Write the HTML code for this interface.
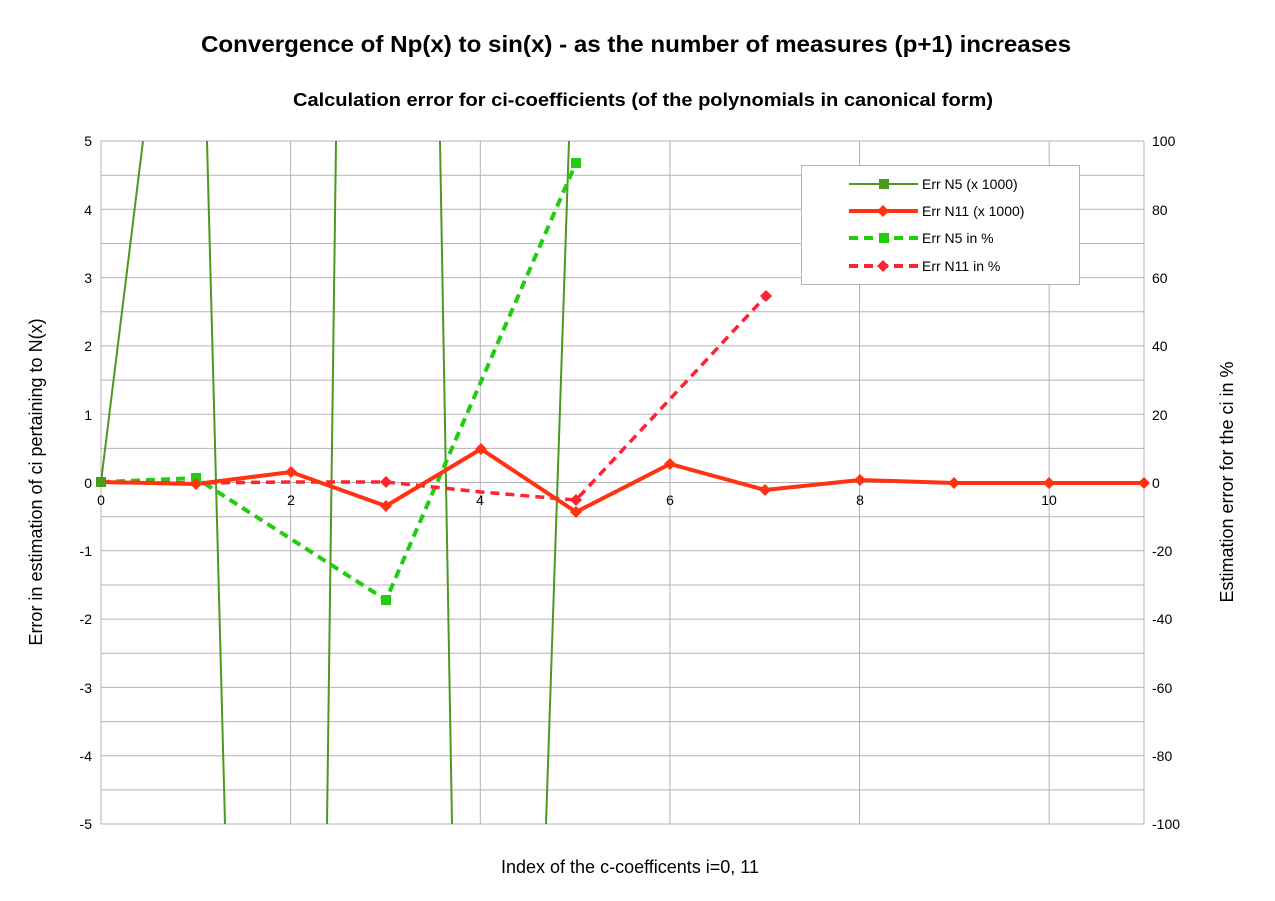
<!DOCTYPE html>
<html><head><meta charset="utf-8"><style>
html,body{margin:0;background:#fff;overflow:hidden;width:1275px;height:901px;}
svg{display:block;}
svg text{font-family:"Liberation Sans",sans-serif;}
</style></head><body>
<svg width="1275" height="901" xmlns="http://www.w3.org/2000/svg">
<rect width="1275" height="901" fill="#fff"/>
<text x="636" y="52" text-anchor="middle" font-size="23.5" font-weight="bold" textLength="870" lengthAdjust="spacingAndGlyphs">Convergence of Np(x) to sin(x) - as the number of measures (p+1) increases</text>
<text x="643" y="106" text-anchor="middle" font-size="18" font-weight="bold" textLength="700" lengthAdjust="spacingAndGlyphs">Calculation error for ci-coefficients (of the polynomials in canonical form)</text>
<defs><clipPath id="c"><rect x="101" y="141" width="1043" height="683"/></clipPath></defs>
<g stroke="#b3b3b3" stroke-width="1">
<line x1="101" y1="141" x2="1144" y2="141"/><line x1="101" y1="175.2" x2="1144" y2="175.2"/><line x1="101" y1="209.3" x2="1144" y2="209.3"/><line x1="101" y1="243.5" x2="1144" y2="243.5"/><line x1="101" y1="277.6" x2="1144" y2="277.6"/><line x1="101" y1="311.8" x2="1144" y2="311.8"/><line x1="101" y1="345.9" x2="1144" y2="345.9"/><line x1="101" y1="380.1" x2="1144" y2="380.1"/><line x1="101" y1="414.2" x2="1144" y2="414.2"/><line x1="101" y1="448.4" x2="1144" y2="448.4"/><line x1="101" y1="482.5" x2="1144" y2="482.5"/><line x1="101" y1="516.7" x2="1144" y2="516.7"/><line x1="101" y1="550.8" x2="1144" y2="550.8"/><line x1="101" y1="585" x2="1144" y2="585"/><line x1="101" y1="619.1" x2="1144" y2="619.1"/><line x1="101" y1="653.3" x2="1144" y2="653.3"/><line x1="101" y1="687.4" x2="1144" y2="687.4"/><line x1="101" y1="721.6" x2="1144" y2="721.6"/><line x1="101" y1="755.7" x2="1144" y2="755.7"/><line x1="101" y1="789.9" x2="1144" y2="789.9"/><line x1="101" y1="824" x2="1144" y2="824"/>
<line x1="101" y1="141" x2="101" y2="824"/><line x1="290.6" y1="141" x2="290.6" y2="824"/><line x1="480.3" y1="141" x2="480.3" y2="824"/><line x1="669.9" y1="141" x2="669.9" y2="824"/><line x1="859.5" y1="141" x2="859.5" y2="824"/><line x1="1049.2" y1="141" x2="1049.2" y2="824"/><line x1="1144" y1="141" x2="1144" y2="824"/>
</g>
<g font-size="14" text-anchor="end">
<text x="92" y="146">5</text><text x="92" y="215">4</text><text x="92" y="283">3</text><text x="92" y="351">2</text><text x="92" y="420">1</text><text x="92" y="488">0</text><text x="92" y="556">-1</text><text x="92" y="624">-2</text><text x="92" y="693">-3</text><text x="92" y="761">-4</text><text x="92" y="829">-5</text>
</g>
<g font-size="14" text-anchor="start">
<text x="1152" y="146">100</text><text x="1152" y="215">80</text><text x="1152" y="283">60</text><text x="1152" y="351">40</text><text x="1152" y="420">20</text><text x="1152" y="488">0</text><text x="1152" y="556">-20</text><text x="1152" y="624">-40</text><text x="1152" y="693">-60</text><text x="1152" y="761">-80</text><text x="1152" y="829">-100</text>
</g>
<g font-size="14" text-anchor="middle">
<text x="101" y="505">0</text><text x="291" y="505">2</text><text x="480" y="505">4</text><text x="670" y="505">6</text><text x="860" y="505">8</text><text x="1049" y="505">10</text>
</g>
<text x="630" y="873" text-anchor="middle" font-size="18">Index of the c-coefficents i=0, 11</text>
<text transform="translate(42,482) rotate(-90)" text-anchor="middle" font-size="18">Error in estimation of ci pertaining to N(x)</text>
<text transform="translate(1233,482) rotate(-90)" text-anchor="middle" font-size="18">Estimation error for the ci in %</text>
<g clip-path="url(#c)">
<polyline fill="none" stroke="#4a9a1e" stroke-width="2" points="101,482 143,141 156,35 207,141 225,824 231,1050 327,824 336,141 340,-50 440,141 452,824 456,1050 546,824 569,141 574,-50"/>
<polyline fill="none" stroke="#22cc11" stroke-width="4" stroke-dasharray="9,6" points="101,482 196,478 386,600 576,163"/>
<polyline fill="none" stroke="#ff2233" stroke-width="3.5" stroke-dasharray="9,6" points="101,482 196,483 291,482 386,482 481,492 576,500 766,296"/>
<polyline fill="none" stroke="#ff3311" stroke-width="4" points="101,482 196,484 291,472 386,506 481,449 576,512 670,464 765,490 860,480 954,483 1049,483 1144,483"/>
</g>
<rect x="96" y="477" width="10" height="10" fill="#4a9a1e"/>
<rect x="191" y="473" width="10" height="10" fill="#22cc11"/>
<rect x="381" y="595" width="10" height="10" fill="#22cc11"/>
<rect x="571" y="158" width="10" height="10" fill="#22cc11"/>
<g fill="#ff2233">
<path d="M386,476 l6,6 l-6,6 l-6,-6z"/><path d="M576,494 l6,6 l-6,6 l-6,-6z"/><path d="M766,290 l6,6 l-6,6 l-6,-6z"/>
</g>
<g fill="#ff3311">
<path d="M196,478 l6,6 l-6,6 l-6,-6z"/><path d="M291,466 l6,6 l-6,6 l-6,-6z"/><path d="M386,500 l6,6 l-6,6 l-6,-6z"/><path d="M481,443 l6,6 l-6,6 l-6,-6z"/><path d="M576,506 l6,6 l-6,6 l-6,-6z"/><path d="M670,458 l6,6 l-6,6 l-6,-6z"/><path d="M765,484 l6,6 l-6,6 l-6,-6z"/><path d="M860,474 l6,6 l-6,6 l-6,-6z"/><path d="M954,477 l6,6 l-6,6 l-6,-6z"/><path d="M1049,477 l6,6 l-6,6 l-6,-6z"/><path d="M1144,477 l6,6 l-6,6 l-6,-6z"/>
</g>
<rect x="801.5" y="165.5" width="278" height="119" fill="#fff" stroke="#b3b3b3"/>
<g font-size="14">
<line x1="849" y1="184" x2="918" y2="184" stroke="#4a9a1e" stroke-width="2"/><rect x="879" y="179" width="10" height="10" fill="#4a9a1e"/>
<text x="922" y="189">Err N5 (x 1000)</text>
<line x1="849" y1="211" x2="918" y2="211" stroke="#ff3311" stroke-width="4"/><path d="M883,205 l6,6 l-6,6 l-6,-6z" fill="#ff3311"/>
<text x="922" y="216">Err N11 (x 1000)</text>
<line x1="849" y1="238" x2="918" y2="238" stroke="#22cc11" stroke-width="4" stroke-dasharray="9,6"/><rect x="879" y="233" width="10" height="10" fill="#22cc11"/>
<text x="922" y="243">Err N5 in %</text>
<line x1="849" y1="266" x2="918" y2="266" stroke="#ff2233" stroke-width="4" stroke-dasharray="9,6"/><path d="M883,260 l6,6 l-6,6 l-6,-6z" fill="#ff2233"/>
<text x="922" y="271">Err N11 in %</text>
</g>
</svg>
</body></html>
